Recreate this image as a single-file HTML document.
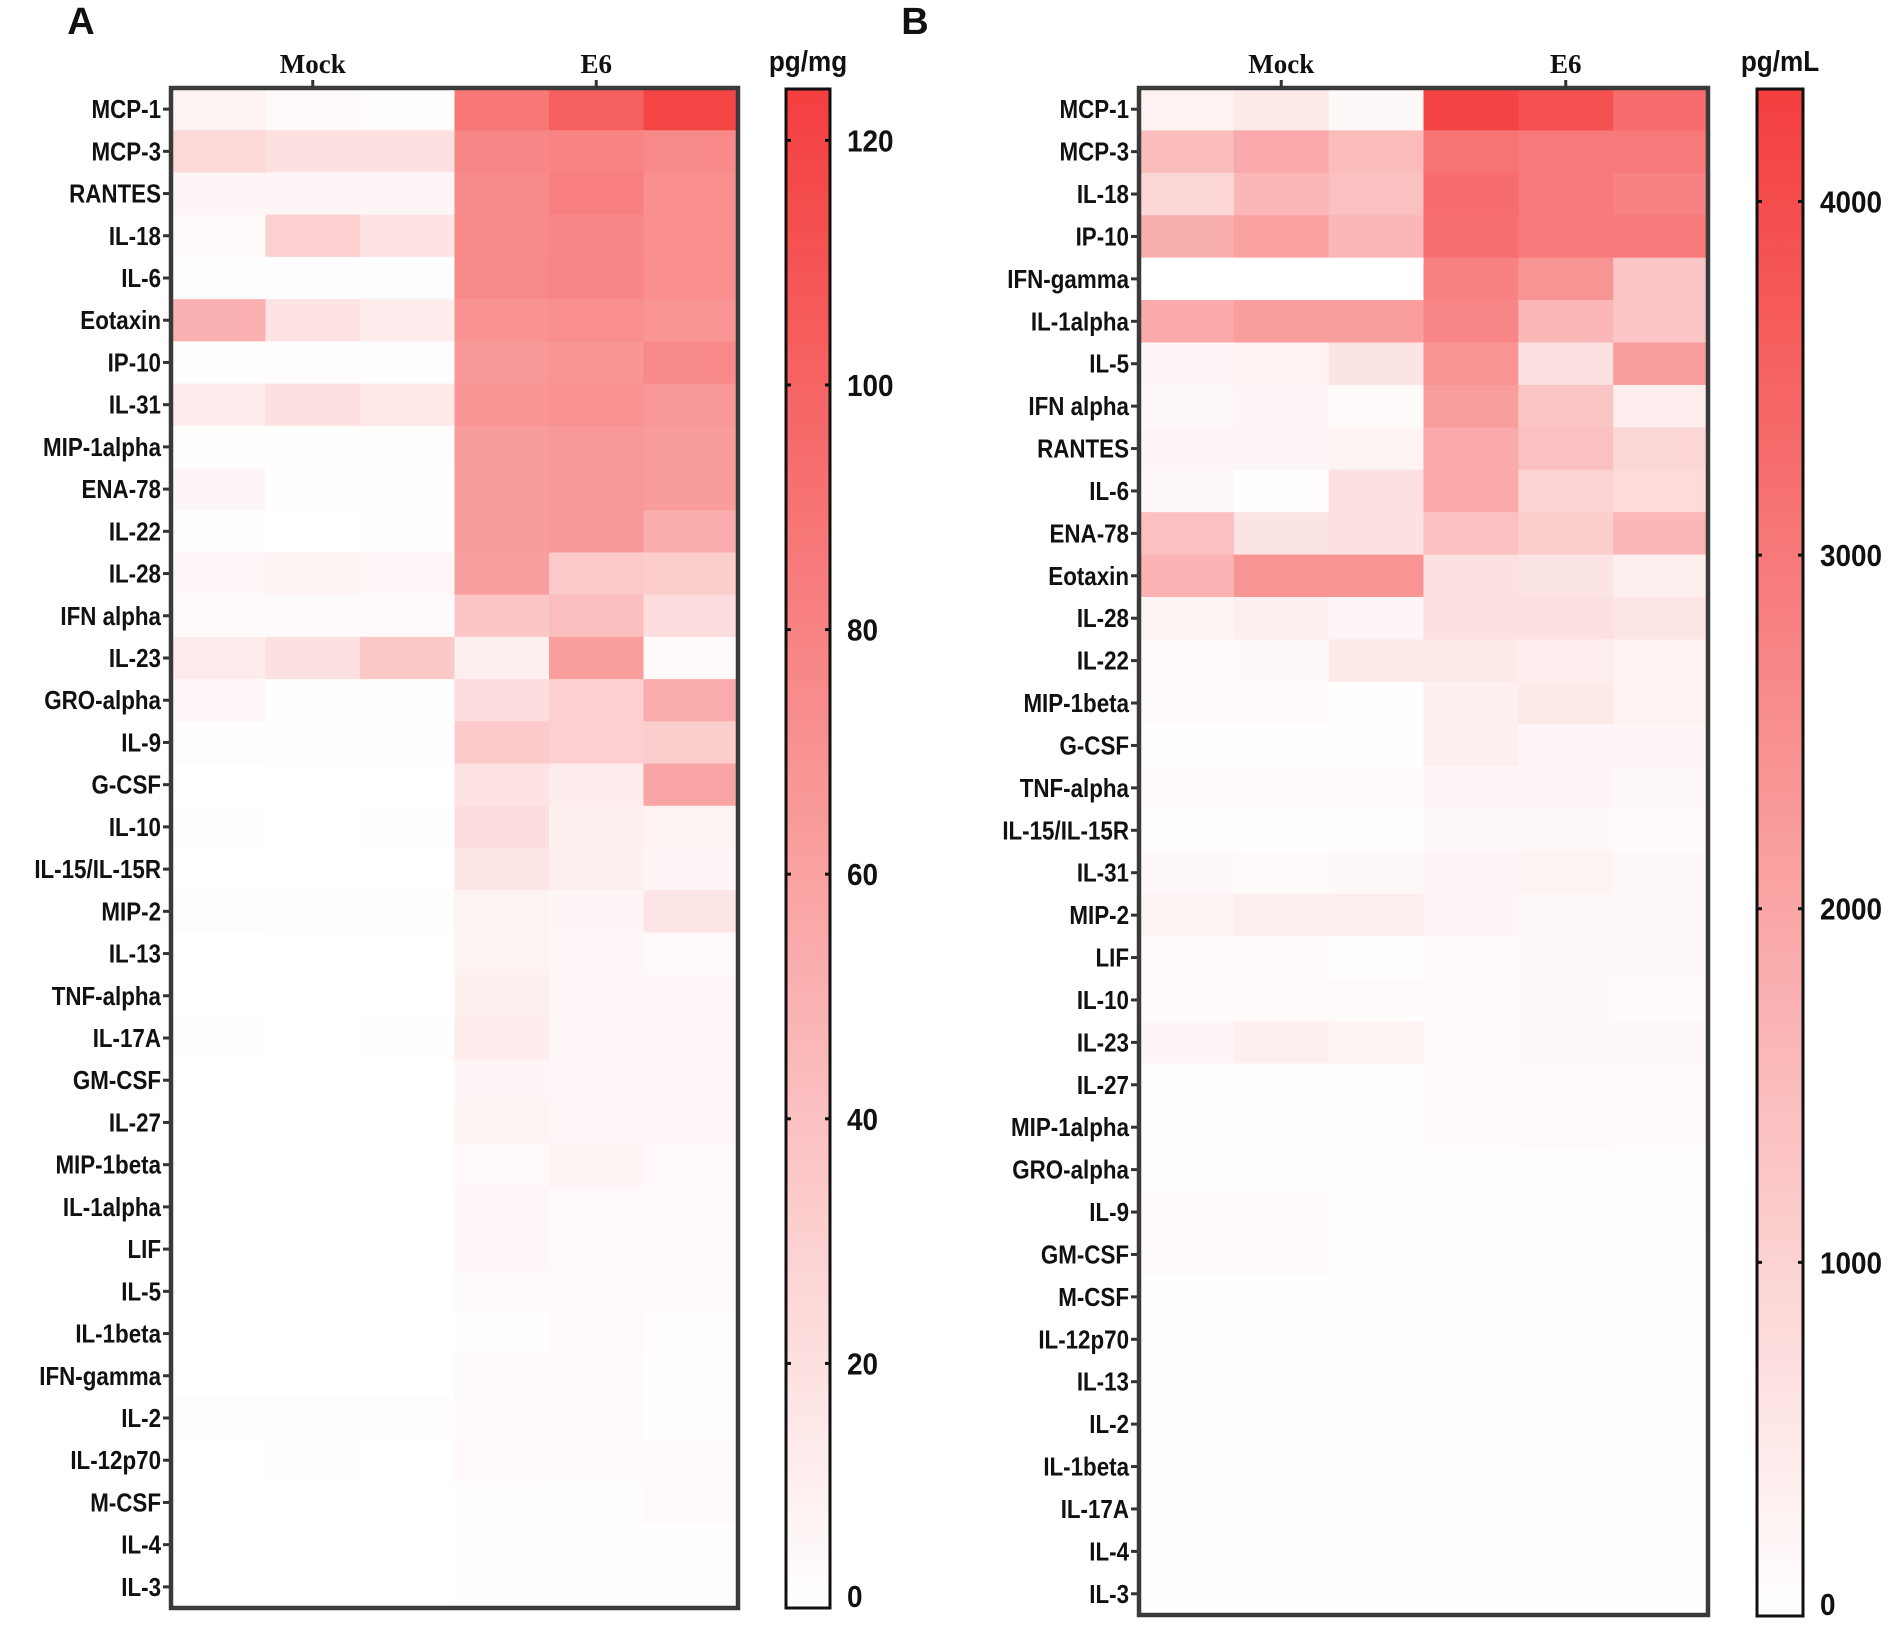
<!DOCTYPE html>
<html><head><meta charset="utf-8">
<style>
html,body{margin:0;padding:0;background:#fff;}
svg{display:block;}
.lab{font-family:"Liberation Sans Narrow","Liberation Sans",sans-serif;font-weight:bold;fill:#111;}
.grp{font-family:"Liberation Serif",serif;font-weight:bold;fill:#111;}
</style></head>
<body>
<svg id="chart" width="1901" height="1631" viewBox="0 0 1901 1631" xmlns="http://www.w3.org/2000/svg"></svg>
<script>
const labelsA = ["MCP-1","MCP-3","RANTES","IL-18","IL-6","Eotaxin","IP-10","IL-31","MIP-1alpha","ENA-78","IL-22","IL-28","IFN alpha","IL-23","GRO-alpha","IL-9","G-CSF","IL-10","IL-15/IL-15R","MIP-2","IL-13","TNF-alpha","IL-17A","GM-CSF","IL-27","MIP-1beta","IL-1alpha","LIF","IL-5","IL-1beta","IFN-gamma","IL-2","IL-12p70","M-CSF","IL-4","IL-3"];
const valuesA = [
[8,3,2,88,102,120],[25,20,20,78,80,75],[6,6,6,75,82,72],[4,30,18,75,77,72],[1,0.5,0.5,76,78,72],
[50,18,12,70,73,68],[2,2,1,66,68,76],[12,20,15,68,70,66],[2,2,2,64,66,64],[6,1,1,64,66,64],
[1,0,1,64,66,52],[5,7,5,62,34,32],[3,3,3,37,42,22],[12,20,35,10,63,3],[5,1,1,22,30,54],
[2,1,1,34,30,32],[0,0,0,18,12,58],[0.5,0,0.5,21,10,8],[0,0,0,17,10,6],[2,1,1,8,6,17],
[0,0,0,8,5,4],[0,0,0,10,5,5],[0.5,0,1,12,5,5],[0,0,0,6,5,5],[0,0,0,7,5,5],
[0,0,0,4,8,4],[0,0,0,5,4,3],[0,0,0,5,3,3],[0,0,0,3,3,3],[0,0,0,2,4,2],
[0,0,0,3,3,2],[2,2,2,3,3,1],[0,1,0,4,3,3],[0,0,0,2,2,4],[0,0,0,2,2,1],[0,0,0,2,2,1]];
const ticksA = [0,20,40,60,80,100,120];
const maxA = 124.2;

const labelsB = ["MCP-1","MCP-3","IL-18","IP-10","IFN-gamma","IL-1alpha","IL-5","IFN alpha","RANTES","IL-6","ENA-78","Eotaxin","IL-28","IL-22","MIP-1beta","G-CSF","TNF-alpha","IL-15/IL-15R","IL-31","MIP-2","LIF","IL-10","IL-23","IL-27","MIP-1alpha","GRO-alpha","IL-9","GM-CSF","M-CSF","IL-12p70","IL-13","IL-2","IL-1beta","IL-17A","IL-4","IL-3"];
const valuesB = [
[300,500,150,4200,3900,3300],[1500,1900,1500,3100,3000,3000],[900,1600,1400,3300,3000,2800],[1800,2100,1600,3200,3000,3000],
[0,0,0,2800,2400,1300],[1900,2200,2200,2700,1600,1300],[200,300,600,2400,700,2200],[150,200,100,2200,1300,400],
[200,200,250,1900,1400,900],[150,50,700,1900,1000,800],[1400,600,700,1400,1100,1600],[1700,2400,2400,700,600,350],
[250,350,200,700,700,550],[80,150,500,500,400,300],[80,80,50,350,500,300],[30,20,20,350,200,200],
[100,120,120,200,200,150],[50,50,50,150,150,100],[150,80,150,200,250,150],[250,350,350,200,150,150],
[80,80,50,100,150,150],[80,80,80,100,150,100],[200,350,250,100,150,150],[30,30,30,80,100,100],
[30,30,30,80,120,80],[30,30,30,60,60,60],[80,80,50,60,60,60],[80,100,50,50,50,50],
[30,30,30,40,40,40],[30,30,30,40,40,40],[20,20,20,30,30,30],[20,30,20,30,30,30],
[20,20,20,30,30,30],[20,20,20,20,20,20],[20,20,20,20,20,20],[20,20,20,20,20,20]];
const ticksB = [0,1000,2000,3000,4000];
const maxB = 4318;
const groups = ["Mock","E6"];

const NS = "http://www.w3.org/2000/svg";
const svg = document.getElementById("chart");
function mk(tag, attrs, parent, text){
  const e = document.createElementNS(NS, tag);
  for (const k in attrs) e.setAttribute(k, attrs[k]);
  if (text !== undefined) e.textContent = text;
  (parent || svg).appendChild(e);
  return e;
}
function color(t){
  t = Math.max(0, Math.min(1, t));
  const r = Math.round(255 + (244-255)*t);
  const g = Math.round(255 + (62-255)*t);
  const b = Math.round(255 + (62-255)*t);
  return "rgb("+r+","+g+","+b+")";
}
const defs = mk("defs", {});
const grad = mk("linearGradient", {id:"cb", x1:"0", y1:"1", x2:"0", y2:"0"}, defs);
mk("stop", {offset:"0", "stop-color":color(0)}, grad);
mk("stop", {offset:"1", "stop-color":color(1)}, grad);

function panel(p){
  const g = mk("g", {});
  
  
  const n = p.labels.length, cols = 6;
  const cw = (p.x1 - p.x0)/cols, rh = (p.y1 - p.y0)/n;
  const xs = c => p.x0 + c*cw;
  const ys = r => p.y0 + r*rh;
  p.values.forEach((row, r) => {
    row.forEach((v, c) => {
      const cell = mk("rect", {x:xs(c), y:ys(r), width:cw+0.6, height:rh+0.6, fill:color(v/p.max)}, g);
      
      
    });
    const tk = mk("line", {x1:p.x0-8, x2:p.x0, y1:ys(r)+rh/2, y2:ys(r)+rh/2, stroke:"#333", "stroke-width":3}, g);
    
    
    const t = mk("text", {transform:"translate("+(p.x0-10)+","+(ys(r)+rh/2+9)+") scale(0.86,1)", "text-anchor":"end", "font-size":26, class:"lab"}, g, p.labels[r]);
    
    
  });
  const fr = mk("rect", {x:p.x0, y:p.y0, width:p.x1-p.x0, height:p.y1-p.y0, fill:"none", stroke:"#3a3a3a", "stroke-width":4.5}, g);
  
  
  groups.forEach((gn, i) => {
    const cx = xs(i*3 + 1.5);
    const l = mk("line", {x1:cx, x2:cx, y1:p.y0-8, y2:p.y0, stroke:"#333", "stroke-width":3}, g);
    
    
    const t = mk("text", {x:cx, y:p.y0-15, "text-anchor":"middle", "font-size":27, class:"grp"}, g, gn);
    
    
  });
  const cb = mk("rect", {x:p.cx0, y:p.cy0, width:p.cx1-p.cx0, height:p.cy1-p.cy0, fill:"url(#cb)", stroke:"#111", "stroke-width":3}, g);
  
  
  const cy = v => p.cy1 - (v/p.max)*(p.cy1-p.cy0);
  p.ticks.forEach(v => {
    const y = cy(v);
    if (v > 0) {
      mk("line", {x1:p.cx0, x2:p.cx0+5, y1:y, y2:y, stroke:"#111", "stroke-width":3}, g);
      mk("line", {x1:p.cx1-5, x2:p.cx1, y1:y, y2:y, stroke:"#111", "stroke-width":3}, g);
    }
    const ty = (v===0? p.cy1-1 : y+11);
    const t = mk("text", {transform:"translate("+(p.cx1+17)+","+ty+") scale(0.9,1)", "font-size":31, class:"lab"}, g, String(v));
    
    
  });
  const u = mk("text", {transform:"translate("+((p.cx0+p.cx1)/2)+","+(p.y0-17)+") scale(0.9,1)", "text-anchor":"middle", "font-size":29, class:"lab"}, g, p.unit);
  
  
  const L = mk("text", {x:p.lx, y:34, "font-size":38, class:"lab", "text-anchor":"middle"}, g, p.letter);
  
  
}
panel({name:"panel-a", labels:labelsA, values:valuesA, max:maxA, ticks:ticksA,
  x0:171, x1:738, y0:88, y1:1608, cx0:786, cx1:830, cy0:89, cy1:1608, unit:"pg/mg", letter:"A", lx:81});
panel({name:"panel-b", labels:labelsB, values:valuesB, max:maxB, ticks:ticksB,
  x0:1139, x1:1708, y0:88, y1:1615, cx0:1757, cx1:1803, cy0:89, cy1:1616, unit:"pg/mL", letter:"B", lx:915});
</script>
</body></html>
